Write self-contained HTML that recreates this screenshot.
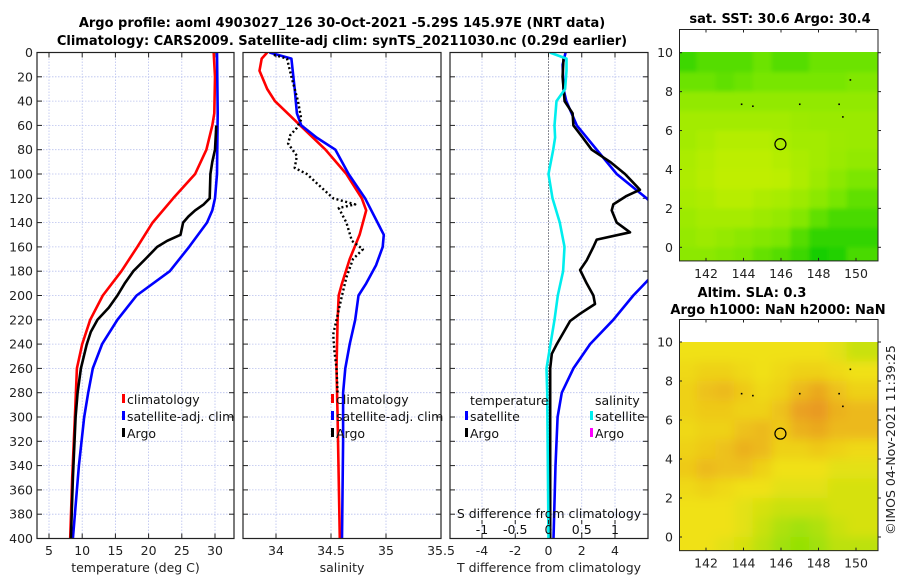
<!DOCTYPE html>
<html><head><meta charset="utf-8">
<style>
html,body{margin:0;padding:0;background:#fff;}
svg{display:block;font-family:"DejaVu Sans","Liberation Sans",sans-serif;}
</style></head>
<body>
<svg id="chart" width="900" height="580" viewBox="0 0 900 580" xmlns="http://www.w3.org/2000/svg">
<defs>
<filter id="blurA" x="0" y="0" width="1" height="1"><feGaussianBlur stdDeviation="5"/></filter>
<filter id="blurB" x="0" y="0" width="1" height="1"><feGaussianBlur stdDeviation="2"/></filter>
<clipPath id="clipP1"><rect x="37" y="52.5" width="197" height="486"/></clipPath>
<clipPath id="clipP2"><rect x="243" y="52.5" width="198" height="486"/></clipPath>
<clipPath id="clipP3"><rect x="450" y="52.5" width="198" height="486"/></clipPath>
<clipPath id="clipM1"><rect x="680" y="52" width="198" height="209"/></clipPath>
<clipPath id="clipM2"><rect x="680" y="342" width="198" height="209"/></clipPath>
</defs>
<text x="342" y="27" font-size="13" font-weight="bold" text-anchor="middle">Argo profile: aoml 4903027_126 30-Oct-2021 -5.29S 145.97E (NRT data)</text>
<text x="342" y="45" font-size="13" font-weight="bold" text-anchor="middle">Climatology: CARS2009. Satellite-adj clim: synTS_20211030.nc (0.29d earlier)</text>
<text x="780" y="23" font-size="13" font-weight="bold" text-anchor="middle">sat. SST: 30.6 Argo: 30.4</text>
<text x="752" y="297" font-size="13" font-weight="bold" text-anchor="middle">Altim. SLA: 0.3</text>
<text x="778" y="314" font-size="13" font-weight="bold" text-anchor="middle">Argo h1000: NaN h2000: NaN</text>
<text transform="translate(895,440) rotate(-90)" font-size="12.5" text-anchor="middle" fill="#222">©IMOS 04-Nov-2021 11:39:25</text>
<g id="g"></g>
</svg>
<script>
// ---------- data ----------
const depthTicks = [0,20,40,60,80,100,120,140,160,180,200,220,240,260,280,300,320,340,360,380,400];
const tempTicks = [5,10,15,20,25,30];
const salTicks = [34,34.5,35,35.5];
const salTickLabels = ["34","34.5","35","35.5"];
const tdiffTicks = [-4,-2,0,2,4];
const sdiffTicks = [-1,-0.5,0,0.5,1];
const sdiffTickLabels = ["-1","-0.5","0","0.5","1"];

const climDepth = [0,20,50,60,80,100,120,140,160,180,200,220,240,260,300,350,400];
const climTemp  = [29.8,30.0,29.9,29.6,28.7,27,23.7,20.6,18.3,15.9,13.1,11.2,10,9.2,8.9,8.5,8.2];
const satDepth = [0,50,100,120,130,140,160,180,200,220,240,260,280,300,340,400];
const satTemp  = [30.3,30.4,30.3,30.0,29.6,28.8,26.1,23.2,18.2,15.3,13,11.6,10.9,10.3,9.5,8.6];
const argoDepth = [60,80,90,100,120,125,130,135,140,150,155,160,170,180,190,200,210,220,230,240,260,280,300,350,400];
const argoTemp  = [30.2,30.0,29.6,29.3,29.2,28.3,27,26,25.2,24.8,22.8,21.3,19.5,17.7,16.4,15.3,14,12.3,11.3,10.7,9.8,9.3,9.0,8.6,8.3];

const climSDepth = [0,5,15,30,40,60,80,100,120,130,150,170,190,200,220,260,300,400];
const climSal    = [33.92,33.87,33.85,33.92,33.99,34.22,34.45,34.64,34.78,34.82,34.76,34.67,34.6,34.57,34.56,34.55,34.56,34.58];
const satSDepth = [0,5,30,50,60,70,80,100,120,150,160,175,190,200,220,240,260,280,320,400];
const satSal    = [33.94,34.14,34.17,34.19,34.23,34.37,34.54,34.66,34.81,34.98,34.97,34.91,34.82,34.75,34.72,34.67,34.63,34.61,34.61,34.60];
const argoSDepth = [2,5,20,40,55,62,68,75,85,95,100,110,120,125,128,140,155,162,170,185,200,220,232,245,260,280];
const argoSal    = [33.98,34.1,34.14,34.2,34.23,34.19,34.13,34.11,34.19,34.17,34.28,34.4,34.52,34.72,34.57,34.64,34.69,34.79,34.7,34.64,34.6,34.55,34.52,34.53,34.55,34.56];

const tdSatDepth = [0,10,30,40,60,80,100,120,140,160,180,200,220,240,260,280,300,340,400];
const tdSat      = [1.03,0.85,0.9,1.07,1.7,2.9,4.1,5.9,7.5,8.5,6.5,5.1,3.9,2.5,1.5,0.8,0.55,0.42,0.3];
const tdArgoDepth = [5,20,40,50,60,70,80,90,100,110,113,118,125,130,140,148,154,160,171,179,190,200,207,215,221,240,248,260,300,400];
const tdArgo      = [0.9,0.85,0.97,1.45,1.5,2.06,2.6,3.7,4.6,5.3,5.5,4.7,3.9,3.8,4.1,4.9,2.9,2.7,2.3,1.9,2.3,2.7,2.8,1.9,1.3,0.5,0.2,0.1,0.1,0.1];
const sdSatDepth = [0,5,15,30,40,60,70,80,100,120,140,160,180,200,220,240,260,280,400];
const sdSat      = [0.02,0.27,0.27,0.25,0.12,0.09,0.1,0.07,0,0.06,0.17,0.24,0.22,0.14,0.09,0.03,-0.03,-0.02,0];

const mapLons = [141,142,143,144,145,146,147,148,149,150];
const mapLats = [9.5,8.5,7.5,6.5,5.5,4.5,3.5,2.5,1.5,0.5,-0.5];
const sstGrid = [
 [0.25,0.35,0.35,0.35,0.45,0.35,0.35,0.45,0.45,0.45],
 [0.45,0.45,0.4,0.45,0.5,0.5,0.5,0.5,0.5,0.55],
 [0.65,0.65,0.65,0.65,0.65,0.65,0.65,0.65,0.65,0.65],
 [0.75,0.75,0.75,0.75,0.75,0.75,0.72,0.7,0.7,0.7],
 [0.75,0.8,0.85,0.85,0.85,0.8,0.75,0.75,0.72,0.7],
 [0.8,0.85,0.9,0.9,0.9,0.85,0.8,0.75,0.7,0.65],
 [0.82,0.87,0.92,0.92,0.92,0.9,0.82,0.72,0.62,0.52],
 [0.78,0.82,0.87,0.87,0.82,0.78,0.72,0.62,0.5,0.4],
 [0.72,0.77,0.77,0.77,0.72,0.67,0.57,0.4,0.3,0.3],
 [0.67,0.72,0.67,0.62,0.57,0.52,0.35,0.2,0.2,0.2],
 [0.62,0.62,0.57,0.52,0.42,0.35,0.25,0.1,0.15,0.3]];
const slaGrid = [
 [0.5,0.5,0.5,0.5,0.5,0.5,0.5,0.5,0.45,0.35],
 [0.55,0.6,0.6,0.55,0.5,0.55,0.6,0.6,0.55,0.5],
 [0.6,0.7,0.75,0.65,0.55,0.6,0.75,0.85,0.7,0.6],
 [0.6,0.65,0.65,0.6,0.6,0.7,0.9,0.95,0.8,0.75],
 [0.55,0.6,0.6,0.7,0.75,0.65,0.8,0.85,0.75,0.75],
 [0.6,0.65,0.7,0.8,0.75,0.6,0.6,0.65,0.6,0.55],
 [0.65,0.75,0.7,0.7,0.6,0.5,0.5,0.5,0.45,0.45],
 [0.55,0.6,0.55,0.5,0.5,0.45,0.45,0.45,0.4,0.4],
 [0.5,0.5,0.5,0.45,0.4,0.35,0.35,0.35,0.4,0.4],
 [0.5,0.5,0.5,0.45,0.35,0.25,0.2,0.25,0.35,0.4],
 [0.5,0.5,0.45,0.4,0.3,0.2,0.15,0.2,0.3,0.3]];
const floatLons = [143.9,144.5,147.0,149.1,149.3,149.7];
const floatLats = [7.35,7.25,7.35,7.35,6.7,8.6];
const profLon = [145.97];
const profLat = [5.3];
const mapXTicks = [142,144,146,148,150];
const mapYTicks = [0,2,4,6,8,10];

// ---------- helpers ----------
const NS = "http://www.w3.org/2000/svg";
const root = document.getElementById('g');
function mk(tag, attrs, parent){
  const e = document.createElementNS(NS, tag);
  for (const k in attrs) e.setAttribute(k, attrs[k]);
  (parent||root).appendChild(e);
  return e;
}
function lin(d0,d1,r0,r1){ return v => r0 + (v-d0)*(r1-r0)/(d1-d0); }
const yD = lin(0,400,52.5,538.5);
const xT = lin(5,30,49,215);
const xS = lin(34,35,276,386);
const xTD = lin(0,4,548.5,615);
const xSD = lin(0,1,548.5,615);
const mxA = lin(142,150,706,856);
const myA = lin(0,10,247.3,52.7);
const myB = lin(0,10,537,342);

function panel(name, x0, x1, xTicksArr, xScale, labelsArr, xlabel, showY, vgrid){
  const grp = mk('g', {});
  
  
  depthTicks.forEach(d => {
    const y = yD(d);
    const gl = mk('line', {x1:x0, x2:x1, y1:y, y2:y, stroke:'#b8c0ee', 'stroke-width':0.8, 'stroke-dasharray':'1.5,1.5'}, grp);
    
    
    mk('line', {x1:x0, x2:x0+5, y1:y, y2:y, stroke:'#222', 'stroke-width':1}, grp);
    mk('line', {x1:x1-5, x2:x1, y1:y, y2:y, stroke:'#222', 'stroke-width':1}, grp);
    if (showY){
      const t = mk('text', {x:x0-4, y:y+4.5, 'font-size':12.5, 'text-anchor':'end', fill:'#222'}, grp);
      t.textContent = d;
      
      
    }
  });
  xTicksArr.forEach((v,i) => {
    const x = xScale(v);
    if (vgrid){
      const gl = mk('line', {x1:x, x2:x, y1:52.5, y2:538.5, stroke:'#b8c0ee', 'stroke-width':0.8, 'stroke-dasharray':'1.5,1.5'}, grp);
      
      
    }
    mk('line', {x1:x, x2:x, y1:538.5, y2:533.5, stroke:'#222', 'stroke-width':1}, grp);
    mk('line', {x1:x, x2:x, y1:52.5, y2:57.5, stroke:'#222', 'stroke-width':1}, grp);
    const t = mk('text', {x:x, y:555, 'font-size':12.5, 'text-anchor':'middle', fill:'#222'}, grp);
    t.textContent = labelsArr ? labelsArr[i] : v;
    
    
  });
  const xl = mk('text', {x:(x0+x1)/2, y:572, 'font-size':12.5, 'text-anchor':'middle', fill:'#222'}, grp);
  xl.textContent = xlabel;
  
  
  return grp;
}
function frame(name, x0, x1, y0, y1){
  const r = mk('rect', {x:x0, y:y0, width:x1-x0, height:y1-y0, fill:'none', stroke:'#222', 'stroke-width':1.2});
  
  
}
function line(name, depths, vals, xs, color, clip, dash){
  const pts = depths.map((d,i) => xs(vals[i]).toFixed(1)+','+yD(d).toFixed(1)).join(' ');
  const a = {points:pts, fill:'none', stroke:color, 'stroke-width':2.6, 'stroke-linejoin':'round', 'clip-path':'url(#'+clip+')'};
  if (dash) { a['stroke-dasharray'] = dash; a['stroke-width'] = 2.4; }
  const p = mk('polyline', a);
  
  
}
function legend(name, x, y, color, label){
  const grp = mk('g', {});
  
  
  mk('rect', {x:x, y:y-10, width:3, height:9, fill:color}, grp);
  const t = mk('text', {x:x+5, y:y, 'font-size':12.5, fill:'#111'}, grp);
  t.textContent = label;
}

// ---------- panel 1: temperature ----------
panel('temperature-panel', 37, 234, tempTicks, xT, null, 'temperature (deg C)', true, true);
line('climatology-temperature-line', climDepth, climTemp, xT, '#ff0000', 'clipP1');
line('satellite-temperature-line', satDepth, satTemp, xT, '#0000ff', 'clipP1');
line('argo-temperature-line', argoDepth, argoTemp, xT, '#000000', 'clipP1');
legend('legend-climatology', 122, 404, '#ff0000', 'climatology');
legend('legend-satellite-adj', 122, 421, '#0000ff', 'satellite-adj. clim');
legend('legend-argo', 122, 438, '#000000', 'Argo');
frame('temperature-axes-frame', 37, 234, 52.5, 538.5);

// ---------- panel 2: salinity ----------
mk('rect', {x:243, y:52, width:198, height:487, fill:'#fff'});
panel('salinity-panel', 243, 441, salTicks, xS, salTickLabels, 'salinity', false, true);
line('climatology-salinity-line', climSDepth, climSal, xS, '#ff0000', 'clipP2');
line('satellite-salinity-line', satSDepth, satSal, xS, '#0000ff', 'clipP2');
line('argo-salinity-line', argoSDepth, argoSal, xS, '#000000', 'clipP2', '2,2.5');
legend('legend-sal-climatology', 331, 404, '#ff0000', 'climatology');
legend('legend-sal-satellite-adj', 331, 421, '#0000ff', 'satellite-adj. clim');
legend('legend-sal-argo', 331, 438, '#000000', 'Argo');
frame('salinity-axes-frame', 243, 441, 52.5, 538.5);

// ---------- panel 3: differences ----------
mk('rect', {x:450, y:52, width:198, height:487, fill:'#fff'});
panel('difference-panel', 450, 648, tdiffTicks, xTD, null, 'T difference from climatology', false, true);
const zl = mk('line', {x1:xTD(0), x2:xTD(0), y1:52.5, y2:538.5, stroke:'#333', 'stroke-width':1, 'stroke-dasharray':'1,2'});


line('satellite-t-diff-line', tdSatDepth, tdSat, xTD, '#0000ff', 'clipP3');
line('argo-t-diff-line', tdArgoDepth, tdArgo, xTD, '#000000', 'clipP3');
line('satellite-s-diff-line', sdSatDepth, sdSat, xSD, '#00eeee', 'clipP3');
(function(){
  const t1 = mk('text', {x:470, y:405, 'font-size':12.5, fill:'#111'});
  t1.textContent = 'temperature';
  
  
  const t2 = mk('text', {x:595, y:405, 'font-size':12.5, fill:'#111'});
  t2.textContent = 'salinity';
  
  
})();
legend('legend-t-satellite', 465, 421, '#0000ff', 'satellite');
legend('legend-t-argo', 465, 438, '#000000', 'Argo');
legend('legend-s-satellite', 590, 421, '#00eeee', 'satellite');
legend('legend-s-argo', 590, 438, '#ff00ff', 'Argo');
(function(){
  const t = mk('text', {x:549, y:518, 'font-size':12.5, 'text-anchor':'middle', fill:'#111'});
  t.textContent = 'S difference from climatology';
  
  
  sdiffTicks.forEach((v,i) => {
    const x = xSD(v);
    mk('line', {x1:x, x2:x, y1:520, y2:524, stroke:'#222', 'stroke-width':1});
    const l = mk('text', {x:x, y:534, 'font-size':12.5, 'text-anchor':'middle', fill:'#111'});
    l.textContent = sdiffTickLabels[i];
    
    
  });
})();
frame('difference-axes-frame', 450, 648, 52.5, 538.5);

// ---------- maps ----------
function lerp(a,b,t){ return a.map((v,i)=>Math.round(v+(b[i]-v)*t)); }
function ramp(stops, v){
  v = Math.max(0, Math.min(1, v));
  const n = stops.length-1, p = v*n, i = Math.min(n-1, Math.floor(p));
  const c = lerp(stops[i], stops[i+1], p-i);
  return 'rgb('+c.join(',')+')';
}
const sstStops = [[0,200,0],[120,230,0],[205,240,0]];
const slaStops = [[110,225,0],[240,225,20],[232,145,35]];
function map(name, grid, myS, top, stops, clip, blur){
  const grp = mk('g', {});
  
  
  const cells = mk('g', {'clip-path':'url(#'+clip+')'}, grp);
  const inner = mk('g', {filter:'url(#'+blur+')'}, cells);
  const nC = mapLons.length, nR = mapLats.length;
  mapLats.forEach((lat,r) => {
    mapLons.forEach((lon,c) => {
      const x0 = mxA(c === 0 ? 139.5 : lon-0.5), x1 = mxA(c === nC-1 ? 152.5 : lon+0.5);
      const y0 = myS(r === 0 ? 11 : lat+0.5), y1 = myS(r === nR-1 ? -1.8 : lat-0.5);
      const rc = mk('rect', {x:x0, y:y0, width:x1-x0+0.5, height:y1-y0+0.5, fill:ramp(stops, grid[r][c])}, inner);
      
      
    });
  });
  mk('rect', {x:679, y:top, width:200, height:myS(10.1)-top, fill:'#fff'}, grp);
  floatLons.forEach((lon,i) => {
    const d = mk('rect', {x:mxA(lon)-0.8, y:myS(floatLats[i])-0.8, width:1.6, height:1.6, fill:'#000'}, grp);
    
    
  });
  const c = mk('circle', {cx:mxA(profLon[0]), cy:myS(profLat[0]), r:5.5, fill:'none', stroke:'#000', 'stroke-width':1.2}, grp);
  
  
  const bottom = myS(-0.7);
  mapXTicks.forEach(v => {
    const x = mxA(v);
    mk('line', {x1:x, x2:x, y1:bottom, y2:bottom-3, stroke:'#222'}, grp);
    mk('line', {x1:x, x2:x, y1:top, y2:top+3, stroke:'#222'}, grp);
    const t = mk('text', {x:x, y:bottom+17, 'font-size':12.5, 'text-anchor':'middle', fill:'#222'}, grp);
    t.textContent = v;
    
    
  });
  mapYTicks.forEach(v => {
    const y = myS(v);
    mk('line', {x1:679, x2:682, y1:y, y2:y, stroke:'#222'}, grp);
    mk('line', {x1:878, x2:881, y1:y, y2:y, stroke:'#222'}, grp);
    const t = mk('text', {x:673, y:y+4.5, 'font-size':12.5, 'text-anchor':'end', fill:'#222'}, grp);
    t.textContent = v;
    
    
  });
  const f = mk('rect', {x:679.5, y:top, width:198.5, height:bottom-top, fill:'none', stroke:'#222', 'stroke-width':1}, grp);
  
  
}
map('sst-map', sstGrid, myA, 29.5, sstStops, 'clipM1', 'blurB');
map('sla-map', slaGrid, myB, 319.5, slaStops, 'clipM2', 'blurA');
</script>
</body></html>
